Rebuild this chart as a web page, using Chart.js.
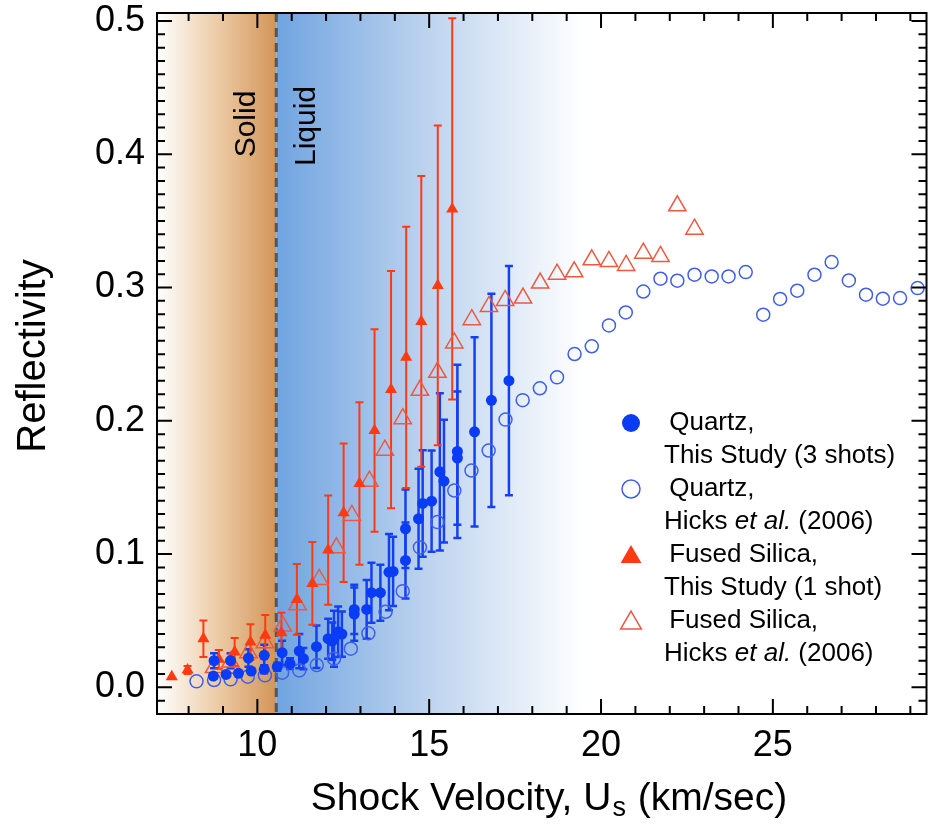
<!DOCTYPE html>
<html>
<head>
<meta charset="utf-8">
<script src="https://cdn.jsdelivr.net/npm/chart.js@4.4.1/dist/chart.umd.min.js"></script>
<style>
  html, body { margin: 0; padding: 0; background: #fff; }
  #wrap { width: 938px; height: 824px; position: relative; }
</style>
</head>
<body>
<div id="wrap"><canvas id="reflectivityChart"></canvas></div>
<script>
// ======================
// Data
// ======================

// Quartz, this study (3 shots) - filled circles with error bars
const quartzX = [8.72, 8.74, 9.09, 9.22, 9.45, 9.74, 9.82, 10.20, 10.20, 10.58, 10.72, 10.95, 11.22, 11.34,
    11.72, 12.06, 12.18, 12.23, 12.35, 12.46, 12.82, 12.82, 13.18, 13.32, 13.58, 13.83, 13.95, 14.31, 14.31,
    14.69, 14.81, 15.07, 15.31, 15.43, 15.82, 15.82, 16.32, 16.81, 17.32];
const quartzY = [0.0085, 0.020, 0.0097, 0.020, 0.0105, 0.022, 0.0122, 0.0135, 0.024, 0.0155, 0.026, 0.0178, 0.0272, 0.0215,
    0.0305, 0.0365, 0.0347, 0.0365, 0.0417, 0.040, 0.0585, 0.055, 0.0585, 0.071, 0.071, 0.0864, 0.087, 0.0952, 0.119,
    0.1265, 0.138, 0.1397, 0.1617, 0.1547, 0.177, 0.172, 0.1917, 0.2154, 0.2301];
const quartzErr = [0.002, 0.0056, 0.002, 0.0056, 0.002, 0.0065, 0.002, 0.003, 0.008, 0.003, 0.009, 0.004, 0.0128, 0.008,
    0.016, 0.015, 0.014, 0.021, 0.019, 0.017, 0.0185, 0.02, 0.022, 0.0225, 0.021, 0.0286, 0.026, 0.0285, 0.0295,
    0.0375, 0.04, 0.038, 0.059, 0.046, 0.065, 0.05, 0.071, 0.08, 0.086];

// Quartz, Hicks et al. (2006) - open circles
const hicksQuartzX = [8.23, 8.74, 9.22, 9.72, 10.22, 10.72, 11.22, 11.73, 12.23, 12.72, 13.23, 13.73, 14.23, 14.73,
    15.24, 15.73, 16.23, 16.73, 17.22, 17.72, 18.22, 18.72, 19.23, 19.73, 20.23, 20.72, 21.23, 21.73, 22.22,
    22.72, 23.22, 23.71, 24.21, 24.72, 25.21, 25.71, 26.21, 26.71, 27.21, 27.71, 28.20, 28.70, 29.21];
const hicksQuartzY = [0.0045, 0.0055, 0.006, 0.008, 0.009, 0.011, 0.0127, 0.0167, 0.0215, 0.029, 0.0405, 0.0567, 0.0722, 0.105,
    0.124, 0.1477, 0.1627, 0.1777, 0.2009, 0.2155, 0.2244, 0.2326, 0.2501, 0.2559, 0.2716, 0.2813, 0.297, 0.3066, 0.3051,
    0.3096, 0.3083, 0.3083, 0.3116, 0.2796, 0.2914, 0.2976, 0.3096, 0.3191, 0.3053, 0.2946, 0.2916, 0.2921, 0.2996];

// Fused silica, this study (1 shot) - filled triangles with error bars
const silicaX = [7.51, 7.97, 8.43, 8.88, 9.34, 9.80, 10.23, 10.70, 11.15, 11.60, 12.06, 12.51, 12.97, 13.41, 13.89,
    14.33, 14.77, 15.25, 15.67];
const silicaY = [0.008, 0.013, 0.0365, 0.021, 0.0265, 0.034, 0.039, 0.041, 0.066, 0.078, 0.103, 0.131, 0.153, 0.1927,
    0.2234, 0.2476, 0.2746, 0.3016, 0.359];
const silicaErr = [0, 0.003, 0.0137, 0.007, 0.0105, 0.0134, 0.0153, 0.015, 0.0265, 0.031, 0.041, 0.052, 0.061, 0.076,
    0.089, 0.098, 0.109, 0.12, 0.143];

// Fused silica, Hicks et al. (2006) - open triangles
const hicksSilicaX = [8.74, 9.22, 9.74, 10.22, 10.74, 11.17, 11.80, 12.30, 12.75, 13.26, 13.71, 14.23, 14.73, 15.24,
    15.73, 16.24, 16.74, 17.21, 17.73, 18.23, 18.72, 19.22, 19.73, 20.23, 20.73, 21.23, 21.73, 22.22, 22.72];
const hicksSilicaY = [0.0148, 0.019, 0.026, 0.0335, 0.046, 0.062, 0.081, 0.1047, 0.129, 0.1547, 0.178, 0.2016, 0.2229,
    0.2364, 0.2584, 0.2759, 0.2858, 0.2903, 0.2921, 0.3034, 0.310, 0.3118, 0.3208, 0.3196, 0.3166, 0.3258, 0.3233,
    0.3613, 0.3438];

const xTicks = [10, 15, 20, 25];
const yTicks = [0.0, 0.1, 0.2, 0.3, 0.4, 0.5];

const meltingVelocity = 10.55;   // solid / liquid boundary
const fadeEndVelocity = 19.5;    // where the blue shading reaches white

const legendRows = [
    { style: 'circle', fill: true, color: '#0B3CF5', lines: [' Quartz,', 'This Study (3 shots)'] },
    { style: 'circle', fill: false, color: '#3F5FEA', lines: [' Quartz,', ['Hicks ', 'et al.', ' (2006)']] },
    { style: 'triangle', fill: true, color: '#FF3A12', lines: [' Fused Silica,', 'This Study (1 shot)'] },
    { style: 'triangle', fill: false, color: '#EA5A42', lines: [' Fused Silica,', ['Hicks ', 'et al.', ' (2006)']] }
];

const toPoints = (xs, ys) => xs.map((x, i) => ({ x: x, y: ys[i] }));

const FONT = "'Liberation Sans', Arial, sans-serif";

// no extra room for half-labels at the ends of the axes
const noEndPadding = axis => {
    axis.paddingTop = 0;
    axis.paddingBottom = 0;
    axis.paddingLeft = 0;
    axis.paddingRight = 0;
};

// ======================
// Plugins
// ======================
const phaseBackground = {
    id: 'phaseBackground',
    beforeDraw(chart) {
        const { ctx, chartArea: a, scales: { x } } = chart;
        const xm = x.getPixelForValue(meltingVelocity);
        const xf = x.getPixelForValue(fadeEndVelocity);
        ctx.save();
        ctx.fillStyle = '#fff';
        ctx.fillRect(0, 0, chart.width, chart.height);

        const tan = ctx.createLinearGradient(a.left, 0, xm, 0);
        tan.addColorStop(0, '#FFFFFF');
        tan.addColorStop(0.5, '#EDCCA8');
        tan.addColorStop(1, '#D39558');
        ctx.fillStyle = tan;
        ctx.fillRect(a.left, a.top, xm - a.left, a.bottom - a.top);

        const blue = ctx.createLinearGradient(xm, 0, xf, 0);
        blue.addColorStop(0, '#70A4E0');
        blue.addColorStop(0.5, '#BED4EF');
        blue.addColorStop(1, '#FFFFFF');
        ctx.fillStyle = blue;
        ctx.fillRect(xm, a.top, xf - xm, a.bottom - a.top);

        // dashed boundary
        ctx.strokeStyle = '#555';
        ctx.lineWidth = 3;
        ctx.setLineDash([9, 6]);
        ctx.beginPath();
        ctx.moveTo(xm, a.top);
        ctx.lineTo(xm, a.bottom);
        ctx.stroke();
        ctx.setLineDash([]);

        // phase labels
        ctx.fillStyle = '#000';
        ctx.font = '30px ' + FONT;
        ctx.textAlign = 'center';
        ctx.textBaseline = 'middle';
        ctx.translate(xm - 30, 124);
        ctx.rotate(-Math.PI / 2);
        ctx.fillText('Solid', 0, 0);
        ctx.rotate(Math.PI / 2);
        ctx.translate(60, 2);
        ctx.rotate(-Math.PI / 2);
        ctx.fillText('Liquid', 0, 0);
        ctx.restore();
    }
};

const errorBars = {
    id: 'errorBars',
    beforeDatasetsDraw(chart) {
        const { ctx, scales: { x, y } } = chart;
        chart.data.datasets.forEach(ds => {
            if (!ds.errors) return;
            ctx.save();
            ctx.strokeStyle = ds.barColor;
            ctx.lineWidth = ds.barWidth;
            ds.data.forEach((p, i) => {
                const e = ds.errors[i];
                if (!e) return;
                const px = x.getPixelForValue(p.x);
                const top = y.getPixelForValue(p.y + e);
                const bot = y.getPixelForValue(p.y - e);
                ctx.beginPath();
                ctx.moveTo(px, top); ctx.lineTo(px, bot);
                ctx.moveTo(px - 4, top); ctx.lineTo(px + 4, top);
                ctx.moveTo(px - 4, bot); ctx.lineTo(px + 4, bot);
                ctx.stroke();
            });
            ctx.restore();
        });
    }
};

const frameAndTicks = {
    id: 'frameAndTicks',
    afterDatasetsDraw(chart) {
        const { ctx, chartArea: a, scales: { x, y } } = chart;
        ctx.save();
        ctx.strokeStyle = '#000';
        ctx.lineWidth = 2;
        ctx.strokeRect(a.left, a.top, a.right - a.left, a.bottom - a.top);
        ctx.beginPath();
        for (let v = 8; v <= 29; v++) {
            const px = x.getPixelForValue(v);
            const len = v % 5 === 0 ? 15 : 8;
            ctx.moveTo(px, a.bottom); ctx.lineTo(px, a.bottom - len);
            ctx.moveTo(px, a.top); ctx.lineTo(px, a.top + len);
        }
        for (let i = -1; i <= 50; i++) {
            const py = y.getPixelForValue(i / 100);
            const len = i % 10 === 0 ? 15 : 8;
            ctx.moveTo(a.left, py); ctx.lineTo(a.left + len, py);
            ctx.moveTo(a.right, py); ctx.lineTo(a.right - len, py);
        }
        ctx.stroke();
        ctx.restore();
    }
};

function drawMarker(ctx, style, fill, color, cx, cy, r) {
    ctx.beginPath();
    if (style === 'circle') {
        ctx.arc(cx, cy, r, 0, Math.PI * 2);
    } else {
        ctx.moveTo(cx, cy - r);
        ctx.lineTo(cx + r * 0.866, cy + r * 0.5);
        ctx.lineTo(cx - r * 0.866, cy + r * 0.5);
        ctx.closePath();
    }
    if (fill) {
        ctx.fillStyle = color;
        ctx.fill();
    } else {
        ctx.strokeStyle = color;
        ctx.lineWidth = 1.5;
        ctx.stroke();
    }
}

const legendAndTitles = {
    id: 'legendAndTitles',
    afterDraw(chart) {
        const { ctx } = chart;
        ctx.save();
        ctx.fillStyle = '#000';
        ctx.textBaseline = 'middle';
        ctx.textAlign = 'left';

        // legend
        let rowY = 423;
        legendRows.forEach(row => {
            drawMarker(ctx, row.style, row.fill, row.color, 631, rowY + (row.style === 'triangle' ? 2 : 0),
                row.style === 'triangle' ? 12 : 9);
            ctx.fillStyle = '#000';
            ctx.font = '26px ' + FONT;
            ctx.fillText(row.lines[0], 662, rowY);
            const second = row.lines[1];
            if (typeof second === 'string') {
                ctx.fillText(second, 664, rowY + 33);
            } else {
                let tx = 664;
                second.forEach((part, k) => {
                    ctx.font = (k === 1 ? 'italic ' : '') + '26px ' + FONT;
                    ctx.fillText(part, tx, rowY + 33);
                    tx += ctx.measureText(part).width;
                });
            }
            rowY += 66;
        });

        // y title
        ctx.font = '40px ' + FONT;
        ctx.textAlign = 'center';
        ctx.save();
        ctx.translate(34, 356);
        ctx.rotate(-Math.PI / 2);
        ctx.fillText('Reflectivity', 0, 0);
        ctx.restore();

        // x title with subscript
        const partA = 'Shock Velocity, U';
        const partB = 's';
        const partC = ' (km/sec)';
        ctx.font = '39px ' + FONT;
        const wA = ctx.measureText(partA).width;
        const wC = ctx.measureText(partC).width;
        ctx.font = '27px ' + FONT;
        const wB = ctx.measureText(partB).width;
        let tx = 548 - (wA + wB + wC) / 2;
        const ty = 799;
        ctx.textAlign = 'left';
        ctx.font = '39px ' + FONT;
        ctx.fillText(partA, tx, ty);
        tx += wA;
        ctx.font = '27px ' + FONT;
        ctx.fillText(partB, tx + 1, ty + 10);
        tx += wB + 2;
        ctx.font = '39px ' + FONT;
        ctx.fillText(partC, tx, ty);
        ctx.restore();
    }
};

// ======================
// Chart
// ======================
const canvas = document.getElementById('reflectivityChart');

new Chart(canvas, {
    type: 'scatter',
    data: {
        datasets: [
            {
                label: 'Quartz, This Study (3 shots)',
                data: toPoints(quartzX, quartzY),
                errors: quartzErr,
                barColor: '#1440F2',
                barWidth: 2.5,
                pointStyle: 'circle',
                pointRadius: 5.5,
                backgroundColor: '#0B3CF5',
                borderColor: '#0B3CF5',
                borderWidth: 0
            },
            {
                label: 'Quartz, Hicks et al. (2006)',
                data: toPoints(hicksQuartzX, hicksQuartzY),
                pointStyle: 'circle',
                pointRadius: 6.5,
                backgroundColor: 'rgba(0,0,0,0)',
                borderColor: '#3F5FEA',
                borderWidth: 1.5
            },
            {
                label: 'Fused Silica, This Study (1 shot)',
                data: toPoints(silicaX, silicaY),
                errors: silicaErr,
                barColor: '#FF3A12',
                barWidth: 2,
                pointStyle: 'triangle',
                pointRadius: 7,
                backgroundColor: '#FF3A12',
                borderColor: '#FF3A12',
                borderWidth: 0
            },
            {
                label: 'Fused Silica, Hicks et al. (2006)',
                data: toPoints(hicksSilicaX, hicksSilicaY),
                pointStyle: 'triangle',
                pointRadius: 10,
                backgroundColor: 'rgba(0,0,0,0)',
                borderColor: '#EA5A42',
                borderWidth: 1.5
            }
        ]
    },
    options: {
        responsive: true,
        maintainAspectRatio: false,
        animation: false,
        devicePixelRatio: 1,
        layout: { padding: { top: 13, right: 0, left: 0, bottom: 0 } },
        scales: {
            x: {
                type: 'linear',
                min: 7.08,
                max: 29.47,
                afterBuildTicks: axis => { axis.ticks = xTicks.map(v => ({ value: v })); },
                afterFit: axis => { axis.height = 110; noEndPadding(axis); },
                grid: { display: false, drawTicks: false },
                border: { display: false },
                ticks: {
                    color: '#000',
                    padding: 10,
                    font: { size: 36, family: FONT },
                    callback: v => String(v)
                }
            },
            y: {
                type: 'linear',
                min: -0.02,
                max: 0.506,
                afterBuildTicks: axis => { axis.ticks = yTicks.map(v => ({ value: v })); },
                afterFit: axis => { axis.width = 157; noEndPadding(axis); },
                grid: { display: false, drawTicks: false },
                border: { display: false },
                ticks: {
                    color: '#000',
                    padding: 12,
                    font: { size: 36, family: FONT },
                    callback: v => v.toFixed(1)
                }
            }
        },
        plugins: {
            legend: { display: false },
            tooltip: { enabled: false }
        }
    },
    plugins: [phaseBackground, errorBars, frameAndTicks, legendAndTitles]
});
</script>
</body>
</html>
